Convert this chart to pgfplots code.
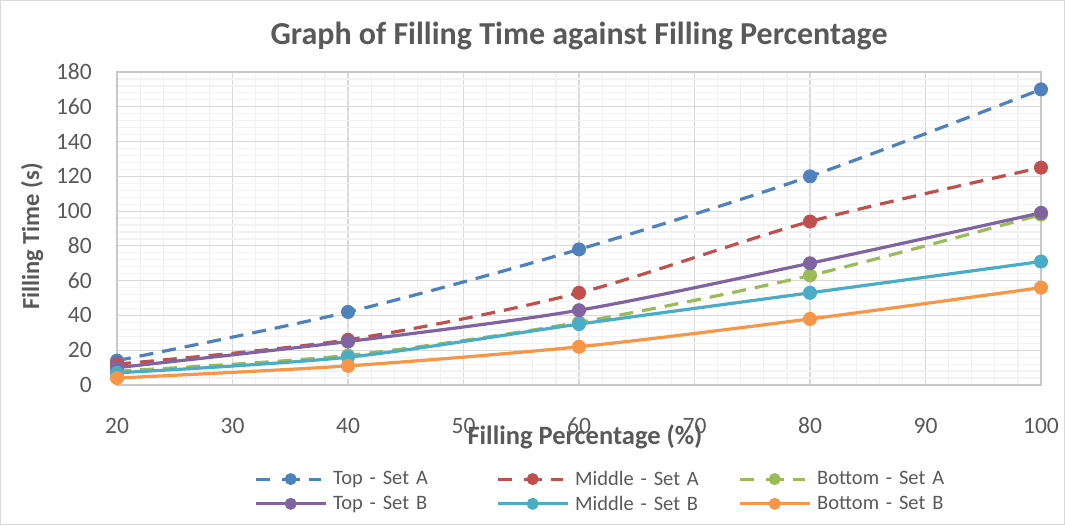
\documentclass[border=0pt]{standalone}
\usepackage{fontspec}
\setmainfont{Carlito}
\usepackage{pgfplots}
\pgfplotsset{compat=1.18}
\definecolor{cA}{HTML}{4F81BD}
\definecolor{cB}{HTML}{C0504D}
\definecolor{cC}{HTML}{9BBB59}
\definecolor{cD}{HTML}{8064A2}
\definecolor{cE}{HTML}{4BACC6}
\definecolor{cF}{HTML}{F79646}
\definecolor{gmaj}{HTML}{D9D9D9}
\definecolor{gmin}{HTML}{F2F2F2}
\definecolor{axc}{HTML}{C8C8C8}
\definecolor{tickc}{HTML}{595959}
\definecolor{frame}{HTML}{D9D9D9}
\pgfplotsset{
  dashleg/.style={legend image code/.code={%
    \draw[##1, line width=3pt, dash pattern=on 14pt off 12pt on 18pt off 9pt on 12pt off 5pt] (0pt,0pt) -- (70pt,0pt);
    \draw[##1, mark size=5.5pt] plot coordinates {(35pt,0pt)};}},
}
\begin{document}
\begin{tikzpicture}
\draw[color=frame, line width=1pt, use as bounding box] (0.5pt,0.5pt) rectangle (1064.5pt,524.5pt);
\begin{axis}[
  at={(117pt,140pt)}, anchor=south west,
  scale only axis, width=924pt, height=313pt,
  xmin=20, xmax=100, ymin=0, ymax=180,
  xtick={20,30,...,100}, ytick={0,20,...,180},
  minor x tick num=4, minor y tick num=4,
  grid=both,
  major grid style={draw=gmaj, line width=1.2pt},
  minor grid style={draw=gmin, line width=1.2pt},
  major tick length=0pt, minor tick length=0pt,
  axis line style={draw=axc, line width=1.3pt},
  /pgf/number format/assume math mode=true,
  tick label style={font=\fontsize{23.5}{23.5}\selectfont, text=tickc},
  xticklabel style={anchor=base, yshift=-48pt},
  yticklabel style={anchor=east, inner sep=0pt, xshift=-25pt},
  title={Graph of Filling Time against Filling Percentage},
  title style={at={(axis description cs:0.5,1.07)}, anchor=base, font=\fontsize{32}{32}\selectfont\bfseries, text=tickc},
  xlabel={Filling Percentage (\%)},
  xlabel style={at={(axis description cs:0.5065,-0.1885)}, anchor=base, font=\fontsize{26.5}{26.5}\selectfont\bfseries, text=tickc},
  ylabel={Filling Time (s)},
  ylabel style={at={(axis description cs:-0.092,0.474)}, anchor=center, font=\fontsize{24.5}{24.5}\selectfont\bfseries, text=tickc},
  legend columns=3,
  legend cell align=left,
  legend style={at={(axis description cs:0.145,-0.2684)}, anchor=north west, draw=none, fill=none,
    font=\fontsize{20.5}{24}\selectfont, text=tickc,
    nodes={inner sep=0pt, text width=163pt},
    /tikz/every odd column/.append style={column sep=6pt},
    row sep=9pt},
  legend image code/.code={\draw[#1, line width=3pt] (0pt,0pt) -- (70pt,0pt);
    \draw[#1, mark size=5.5pt] plot coordinates {(35pt,0pt)};},
  every axis plot/.append style={line width=3.2pt, smooth, mark=*, mark size=6.5pt},
]
\addplot[cA, dash pattern=on 14pt off 9pt, mark options={solid, fill=cA, draw=cA, line width=1pt}, dashleg] coordinates {(20,14) (40,42) (60,78) (80,120) (100,170)};
\addlegendentry{Top - Set A}
\addplot[cB, dash pattern=on 14pt off 9pt, mark options={solid, fill=cB, draw=cB, line width=1pt}, dashleg] coordinates {(20,12) (40,26) (60,53) (80,94) (100,125)};
\addlegendentry{Middle - Set A}
\addplot[cC, dash pattern=on 14pt off 9pt, mark options={solid, fill=cC, draw=cC, line width=1pt}, dashleg] coordinates {(20,8) (40,17) (60,36) (80,63) (100,98)};
\addlegendentry{Bottom - Set A}
\addplot[cD, mark options={fill=cD, draw=cD, line width=1pt}] coordinates {(20,10) (40,25) (60,43) (80,70) (100,99)};
\addlegendentry{Top - Set B}
\addplot[cE, mark options={fill=cE, draw=cE, line width=1pt}] coordinates {(20,7) (40,16) (60,35) (80,53) (100,71)};
\addlegendentry{Middle - Set B}
\addplot[cF, mark options={fill=cF, draw=cF, line width=1pt}] coordinates {(20,4) (40,11) (60,22) (80,38) (100,56)};
\addlegendentry{Bottom - Set B}
\end{axis}
\end{tikzpicture}
\end{document}
